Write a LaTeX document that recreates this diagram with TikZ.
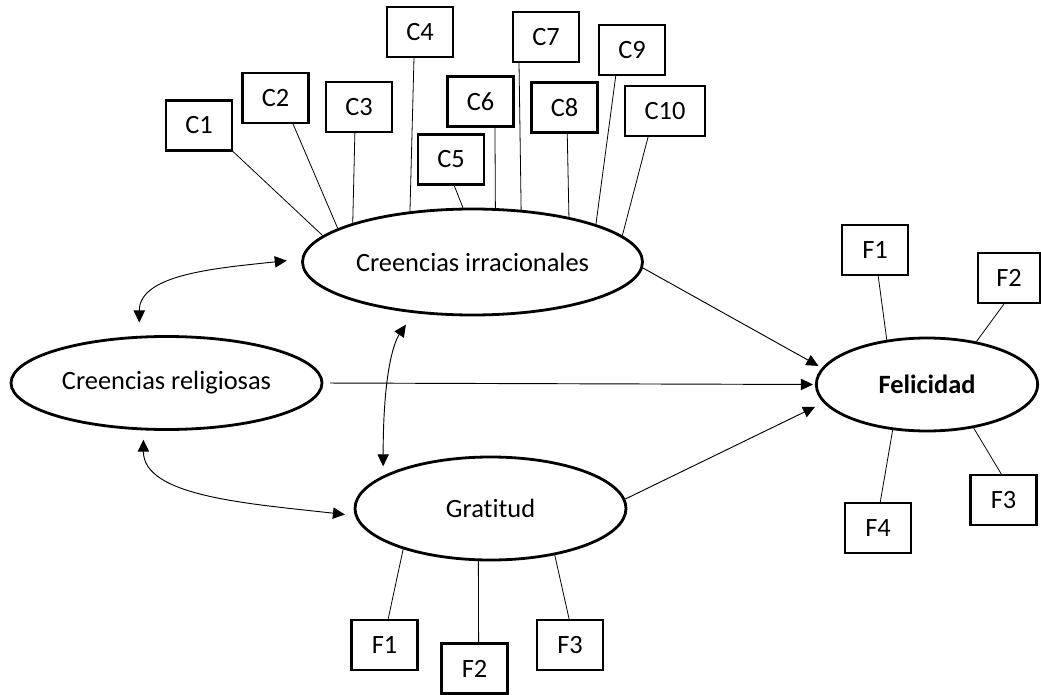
\documentclass[tikz,border=0pt]{standalone}
\usepackage{fontspec}
\setmainfont{Carlito}[Ligatures=NoCommon]
\usetikzlibrary{arrows.meta,shapes.geometric}
\begin{document}
\begin{tikzpicture}[x=0.75pt,y=0.75pt,
  lat/.style={draw, ellipse, line width=2.1pt, inner sep=0pt, font=\fontsize{19.8}{23}\selectfont},
  ind/.style={draw, rectangle, line width=1.6pt, minimum width=49.5pt, minimum height=37.5pt, inner sep=0pt, font=\fontsize{19.8}{23}\selectfont},
  ldg/.style={line width=0.6pt},
  reg/.style={line width=0.7pt, -{Triangle[length=9pt,width=8.5pt]}},
  cov/.style={line width=0.7pt, {Triangle[length=9pt,width=8.5pt]}-{Triangle[length=9pt,width=8.5pt]}}
]
\useasboundingbox (0,0) rectangle (1041,-695);

% latent variables
\node[lat, minimum width=255pt, minimum height=79.5pt] (ci) at (472.5,-262) {Creencias irracionales};
\node[lat, minimum width=233.25pt, minimum height=69.75pt] (cr) at (166.5,-383) {Creencias religiosas};
\node[lat, minimum width=203.25pt, minimum height=77.25pt] (gr) at (490.5,-508.5) {Gratitud};
\node[lat, minimum width=166pt, minimum height=69.75pt] (fe) at (927,-384.5) {\textbf{Felicidad}};

% indicators of Creencias irracionales
\node[ind] (c1) at (199,-125.5) {C1};
\node[ind] (c2) at (275.5,-98) {C2};
\node[ind] (c3) at (359,-107) {C3};
\node[ind] (c4) at (420,-32) {C4};
\node[ind] (c5) at (451,-159.5) {C5};
\node[ind] (c6) at (480.5,-101.5) {C6};
\node[ind] (c7) at (546,-37) {C7};
\node[ind] (c8) at (564.5,-107.5) {C8};
\node[ind] (c9) at (632,-50) {C9};
\node[ind, minimum width=60pt] (c10) at (665,-111) {C10};

% indicators of Felicidad
\node[ind] (ff1) at (875,-250) {F1};
\node[ind, minimum width=46pt] (ff2) at (1009,-278) {F2};
\node[ind] (ff3) at (1003.5,-500) {F3};
\node[ind] (ff4) at (878,-528) {F4};

% indicators of Gratitud
\node[ind] (gf1) at (384.5,-645) {F1};
\node[ind] (gf2) at (474.5,-668.5) {F2};
\node[ind] (gf3) at (570,-645) {F3};

% loadings
\draw[ldg] (c1.south east) -- (ci.170);
\draw[ldg] (c2.-56.6) -- (ci.166);
\draw[ldg] (c3.-99.1) -- (ci.162);
\draw[ldg] (c4.-103.5) -- (ci.141.7);
\draw[ldg] (c5.-83) -- (ci.100.2);
\draw[ldg] (c6.-61.1) -- (ci.67.8);
\draw[ldg] (c7.-136.1) -- (ci.47);
\draw[ldg] (c8.-84.2) -- (ci.25);
\draw[ldg] (c9.-122.6) -- (ci.17);
\draw[ldg] (c10.-123.2) -- (ci.10.5);

\draw[ldg] (ff1.-83.2) -- (fe.132.7);
\draw[ldg] (ff2.-101.3) -- (fe.41.9);
\draw[ldg] (ff3.95.7) -- (fe.-43.3);
\draw[ldg] (ff4.85.4) -- (fe.-127.5);

\draw[ldg] (gf1.82) -- (gr.-155);
\draw[ldg] (gf2.81.9) -- (gr.-103.7);
\draw[ldg] (gf3.92) -- (gr.-36.5);

% regressions
\draw[reg, shorten >=3pt] (ci.-2) -- (fe.171);
\draw[reg, shorten <=5pt, shorten >=1.5pt] (cr.east) -- (fe.west);
\draw[reg, shorten >=7pt] (gr.4.4) -- (fe.190);

% covariances
\draw[cov, shorten <=10pt, shorten >=11pt] (cr.120) .. controls +(0,62) and +(-83,-9) .. (ci.179);
\draw[cov, shorten <=7pt, shorten >=7.5pt] (cr.-116.6) .. controls +(0,-66) and +(-107,12) .. (gr.183.6);
\draw[cov, shorten <=7pt, shorten >=10.5pt] (gr.163) .. controls +(0,106) and +(-19,-28) .. (ci.-139.2);
\end{tikzpicture}
\end{document}
